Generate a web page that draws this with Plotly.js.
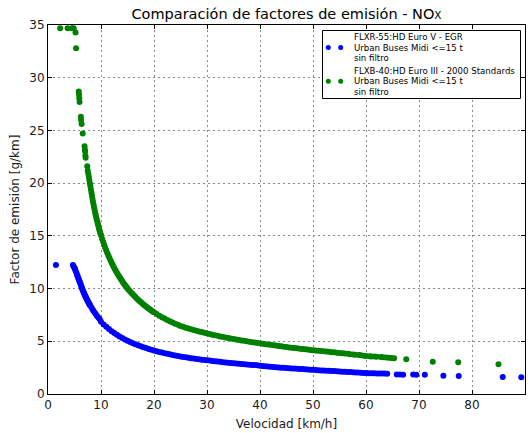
<!DOCTYPE html>
<html>
<head>
<meta charset="utf-8">
<script src="https://cdn.plot.ly/plotly-3.0.1.min.js"></script>
<style>
  html, body { margin: 0; padding: 0; background: #fff; }
  #chart { width: 531px; height: 433px; }
</style>
</head>
<body>
<div id="chart"></div>
<script>
// NOx emission factor (g/km) versus speed (km/h) for two midi urban buses

// FLXR-55 : HD Euro V - EGR
const speedEuroV = [
  1.5, 4.7, 4.85, 5.0, 5.1, 5.2, 5.35, 5.5, 5.6, 5.7, 5.8, 5.9,
  6.0, 6.1, 6.2, 6.3, 6.4, 6.5, 6.6, 6.7, 6.8, 6.9, 7.0, 7.1, 7.2, 7.3, 7.4,
  7.5, 7.6, 7.7, 7.8, 7.9, 8.0, 8.25, 8.5, 8.75, 9.0, 9.25, 9.5, 9.75,
  10.0, 10.5, 11.0, 11.5, 12.0, 12.5, 13.0, 13.5, 14.0, 14.5, 15.0, 15.5,
  16.0, 16.5, 17.0, 17.5, 18.0, 18.5, 19.0, 19.5, 20.0, 20.5, 21.0, 21.5,
  22.0, 22.5, 23.0, 23.5, 24.0, 24.5, 25.0, 25.5, 26.0, 26.5, 27.0, 27.5,
  28.0, 28.5, 29.0, 29.5, 30.0, 30.5, 31.0, 31.5, 32.0, 32.5, 33.0, 33.5,
  34.0, 34.5, 35.0, 35.5, 36.0, 36.5, 37.0, 37.5, 38.0, 38.5, 39.0, 39.5,
  40.0, 40.5, 41.0, 41.5, 42.0, 42.5, 43.0, 43.5, 44.0, 44.5, 45.0, 45.5,
  46.0, 46.5, 47.0, 47.5, 48.0, 48.5, 49.0, 49.5, 50.0, 50.5, 51.0, 51.5,
  52.0, 52.5, 53.0, 53.5, 54.0, 54.5, 55.0, 55.5, 56.0, 56.5, 57.0, 57.5,
  58.0, 58.5, 59.0, 59.5, 60.0, 60.5, 61.0, 61.5, 62.0, 62.5, 63.0, 63.5, 64.0,
  65.8, 66.4, 67.0, 68.9, 69.5, 71.1, 74.6, 77.5, 85.8, 89.3
];
const noxEuroV = [
  12.24, 12.24, 12.1, 11.95, 11.85, 11.7, 11.5, 11.3, 11.15, 11.0, 10.9, 10.75,
  10.62, 10.5, 10.35, 10.2, 10.05, 9.92, 9.8, 9.68, 9.56, 9.45, 9.33, 9.22, 9.12, 9.02, 8.92,
  8.82, 8.72, 8.63, 8.54, 8.45, 8.36, 8.15, 7.95, 7.76, 7.58, 7.41, 7.25, 7.1,
  6.85, 6.6, 6.37, 6.16, 5.96, 5.78, 5.61, 5.45, 5.31, 5.18, 5.05, 4.93,
  4.82, 4.72, 4.62, 4.53, 4.44, 4.36, 4.28, 4.2, 4.12, 4.05, 3.99, 3.93,
  3.87, 3.81, 3.76, 3.71, 3.66, 3.61, 3.56, 3.52, 3.48, 3.44, 3.4, 3.36,
  3.33, 3.29, 3.26, 3.23, 3.2, 3.17, 3.14, 3.11, 3.08, 3.05, 3.02, 2.99,
  2.97, 2.94, 2.92, 2.89, 2.87, 2.85, 2.83, 2.8, 2.78, 2.76, 2.74, 2.72,
  2.68, 2.66, 2.63, 2.61, 2.58, 2.56, 2.54, 2.52, 2.5, 2.48, 2.47, 2.45,
  2.43, 2.41, 2.4, 2.38, 2.36, 2.34, 2.32, 2.3, 2.29, 2.27, 2.26, 2.24,
  2.23, 2.21, 2.2, 2.18, 2.17, 2.15, 2.14, 2.12, 2.11, 2.09, 2.08, 2.06,
  2.05, 2.03, 2.02, 2.0, 1.99, 1.98, 1.97, 1.96, 1.95, 1.95, 1.94, 1.94, 1.93,
  1.86, 1.84, 1.82, 1.84, 1.83, 1.83, 1.72, 1.71, 1.62, 1.6
];

// FLXB-40 : HD Euro III - 2000 Standards
const speedEuroIII = [
  2.3, 3.7, 4.5, 4.85, 5.2, 5.3,
  5.8, 5.85, 5.9, 5.95, 6.2, 6.25, 6.35, 6.55, 6.9, 6.95, 7.0, 7.05, 7.1,
  7.4, 7.5, 7.6, 7.7, 7.8, 7.9, 8.0, 8.1, 8.2, 8.3, 8.4, 8.5, 8.6, 8.7, 8.8,
  8.9, 9.0, 9.1, 9.2, 9.3, 9.4, 9.5, 9.6, 9.7, 9.8, 9.9,
  10.0, 10.2, 10.4, 10.6, 10.8, 11.0, 11.2, 11.4, 11.6, 11.8, 12.0, 12.2,
  12.4, 12.6, 12.8, 13.0, 13.2, 13.4, 13.6, 13.8, 14.0, 14.2, 14.4, 14.6,
  14.8, 15.0, 15.25, 15.5, 15.75, 16.0, 16.25, 16.5, 16.75, 17.0, 17.25, 17.5,
  17.75, 18.0, 18.25, 18.5, 18.75, 19.0, 19.25, 19.5, 19.75,
  20.0, 20.5, 21.0, 21.5, 22.0, 22.5, 23.0, 23.5, 24.0, 24.5, 25.0, 25.5,
  26.0, 26.5, 27.0, 27.5, 28.0, 28.5, 29.0, 29.5, 30.0, 30.5, 31.0, 31.5,
  32.0, 32.5, 33.0, 33.5, 34.0, 34.5, 35.0, 35.5, 36.0, 36.5, 37.0, 37.5,
  38.0, 38.5, 39.0, 39.5, 40.0, 40.5, 41.0, 41.5, 42.0, 42.5, 43.0, 43.5,
  44.0, 44.5, 45.0, 45.5, 46.0, 46.5, 47.0, 47.5, 48.0, 48.5, 49.0, 49.5,
  50.0, 50.5, 51.0, 51.5, 52.0, 52.5, 53.0, 53.5, 54.0, 54.5, 55.0, 55.5,
  56.0, 56.6, 57.0, 57.6, 58.0, 58.7, 59.0, 59.6, 60.0, 60.7, 61.0, 61.6,
  62.0, 62.8, 63.2, 63.8, 64.3, 64.8, 65.3,
  67.6, 72.6, 77.4, 85.0
];
const noxEuroIII = [
  34.7, 34.7, 34.7, 34.7, 34.3, 32.8,
  28.7, 28.4, 28.05, 27.7, 26.3, 26.0, 25.6, 24.7, 23.5, 23.2, 23.0, 22.6, 22.4,
  21.6, 21.2, 20.9, 20.6, 20.3, 20.0, 19.7, 19.4, 19.1, 18.8, 18.5, 18.2, 17.95, 17.7, 17.45,
  17.2, 17.0, 16.75, 16.55, 16.35, 16.15, 15.95, 15.75, 15.55, 15.4, 15.2,
  15.05, 14.72, 14.43, 14.15, 13.88, 13.6, 13.36, 13.12, 12.89, 12.67, 12.45, 12.25,
  12.05, 11.86, 11.68, 11.5, 11.34, 11.18, 11.02, 10.86, 10.7, 10.56, 10.42, 10.28,
  10.14, 10.0, 9.86, 9.72, 9.58, 9.45, 9.32, 9.2, 9.07, 8.95, 8.83, 8.72,
  8.61, 8.5, 8.39, 8.29, 8.19, 8.1, 8.01, 7.92, 7.83,
  7.75, 7.58, 7.43, 7.29, 7.15, 7.02, 6.9, 6.78, 6.67, 6.56, 6.46, 6.37,
  6.29, 6.21, 6.14, 6.07, 6.0, 5.93, 5.87, 5.81, 5.75, 5.69, 5.63, 5.57,
  5.52, 5.46, 5.41, 5.36, 5.31, 5.26, 5.22, 5.17, 5.13, 5.08, 5.04, 5.0,
  4.96, 4.92, 4.88, 4.84, 4.81, 4.77, 4.73, 4.69, 4.66, 4.62, 4.59, 4.55,
  4.52, 4.48, 4.45, 4.42, 4.39, 4.36, 4.33, 4.3, 4.27, 4.24, 4.21, 4.18,
  4.15, 4.12, 4.1, 4.07, 4.05, 4.02, 4.0, 3.97, 3.95, 3.92, 3.9, 3.87,
  3.85, 3.81, 3.77, 3.75, 3.73, 3.7, 3.67, 3.63, 3.6, 3.58, 3.56, 3.55,
  3.53, 3.5, 3.48, 3.46, 3.44, 3.41, 3.39,
  3.29, 3.07, 3.0, 2.81
];

const seriesLabels = [
  ["FLXR-55:HD Euro V - EGR", "Urban Buses Midi <=15 t", "sin filtro"],
  ["FLXB-40:HD Euro III - 2000 Standards", "Urban Buses Midi <=15 t", "sin filtro"]
];
const seriesColors = ["#0000ff", "#008000"];

const xTicks = [0, 10, 20, 30, 40, 50, 60, 70, 80, 90];
const yTicks = [0, 5, 10, 15, 20, 25, 30, 35];

const FONT = "DejaVu Sans, Verdana, sans-serif";

const traces = [
  { x: speedEuroV, y: noxEuroV, name: seriesLabels[0].join(" "),
    mode: "markers", type: "scatter", cliponaxis: true,
    marker: { color: seriesColors[0], size: 6, line: { width: 0 } } },
  { x: speedEuroIII, y: noxEuroIII, name: seriesLabels[1].join(" "),
    mode: "markers", type: "scatter", cliponaxis: true,
    marker: { color: seriesColors[1], size: 6, line: { width: 0 } } }
];

// Framed key in the upper right corner: two dots per entry, three text lines
const L = 48, R = 525, T = 25, B = 394;
const px = v => (v - L) / (R - L);
const py = v => (B - v) / (B - T);

const shapes = [{
  type: "rect", xref: "paper", yref: "paper",
  x0: px(322.5), x1: px(520.5), y0: py(98.5), y1: py(30.5),
  line: { color: "#000", width: 1 }, fillcolor: "#fff", layer: "above"
}];
const annotations = [];
const entryCenters = [47.5, 81.3];
seriesLabels.forEach((lines, i) => {
  [328.3, 340.7].forEach(cx => {
    shapes.push({
      type: "circle", xref: "paper", yref: "paper",
      xsizemode: "pixel", ysizemode: "pixel",
      xanchor: px(cx), yanchor: py(entryCenters[i]),
      x0: -2.5, x1: 2.5, y0: -2.5, y1: 2.5,
      fillcolor: seriesColors[i], line: { width: 0 }, layer: "above"
    });
  });
  lines.forEach((txt, j) => {
    annotations.push({
      xref: "paper", yref: "paper",
      x: px(351.5), y: py(entryCenters[i] + (j - 1) * 10.2),
      xanchor: "left", yanchor: "middle", showarrow: false,
      text: txt.replace(/</g, "&lt;"),
      font: { family: FONT, size: 8.6, color: "#000" }
    });
  });
});

const axisCommon = {
  showline: true, linecolor: "#000", linewidth: 1, mirror: "ticks",
  ticks: "inside", ticklen: 4, tickwidth: 1, tickcolor: "#000",
  showgrid: true, gridcolor: "#8a8a8a", gridwidth: 1, griddash: "2px,3px",
  zeroline: false, tickfont: { family: FONT, size: 12, color: "#1a1a1a" }
};

const layout = {
  width: 531, height: 433,
  margin: { l: L, r: 531 - R, t: T, b: 433 - B, pad: 0 },
  paper_bgcolor: "#fff", plot_bgcolor: "#fff",
  showlegend: false,
  title: {
    text: "Comparación de factores de emisión - NO<span style=\"font-size:10.5px\">X</span>",
    font: { family: FONT, size: 14.5, color: "#000" },
    x: 0.5, xref: "paper", xanchor: "center",
    y: 1 - 14 / 433, yref: "container", yanchor: "middle"
  },
  xaxis: Object.assign({}, axisCommon, {
    range: [0, 90], tickvals: xTicks, ticktext: xTicks.map(String),
    title: { text: "Velocidad [km/h]", font: { family: FONT, size: 12, color: "#1a1a1a" }, standoff: 8 }
  }),
  yaxis: Object.assign({}, axisCommon, {
    range: [0, 35], tickvals: yTicks, ticktext: yTicks.map(String),
    title: { text: "Factor de emisión [g/km]", font: { family: FONT, size: 12, color: "#1a1a1a" }, standoff: 7 }
  }),
  shapes: shapes,
  annotations: annotations
};

Plotly.newPlot("chart", traces, layout, { staticPlot: true, displayModeBar: false });
</script>
</body>
</html>
